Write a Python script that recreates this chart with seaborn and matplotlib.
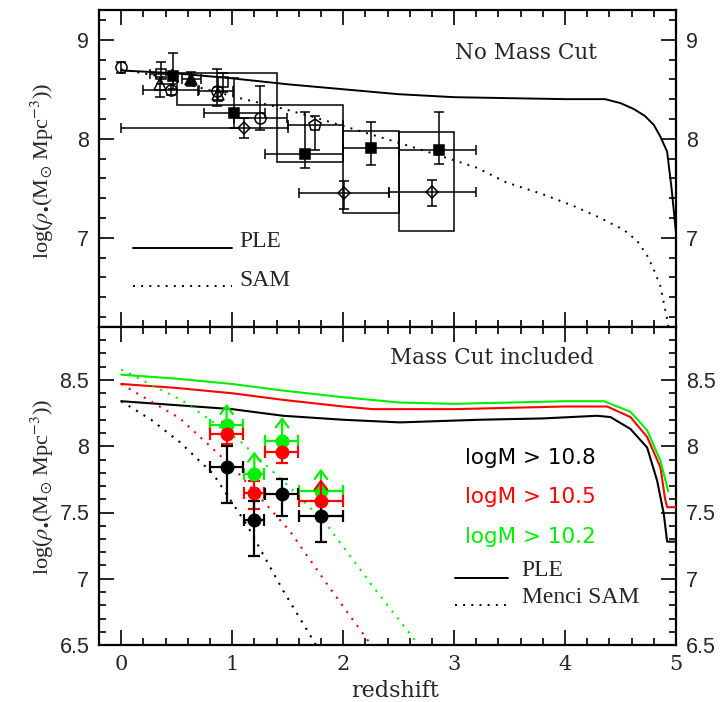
import numpy as np
import matplotlib
matplotlib.use("Agg")
import matplotlib.pyplot as plt
import seaborn as sns
from matplotlib.patches import Rectangle
from matplotlib.ticker import MultipleLocator

nan = np.nan

# ---------------- top panel: models ----------------
ple_top_z = [0.0, 0.5, 1.0, 1.5, 2.0, 2.5, 3.0, 3.5, 4.0, 4.36, 4.5, 4.62, 4.72, 4.8, 4.86, 4.92, 4.96, 5.0]
ple_top_v = [8.69, 8.66, 8.61, 8.55, 8.50, 8.45, 8.42, 8.41, 8.40, 8.40, 8.36, 8.30, 8.23, 8.14, 8.02, 7.87, 7.50, 7.05]
sam_top_z = [0.0, 0.3, 0.56, 0.8, 1.07, 1.37, 1.7, 2.0, 2.5, 2.87, 3.2, 3.47, 3.8, 4.08, 4.3, 4.53, 4.65, 4.74, 4.8, 4.86, 4.92, 4.94]
sam_top_v = [8.70, 8.64, 8.56, 8.49, 8.41, 8.33, 8.23, 8.13, 7.96, 7.83, 7.71, 7.56, 7.44, 7.32, 7.21, 7.08, 6.97, 6.82, 6.68, 6.51, 6.18, 6.05]

# ---------------- top panel: observations ----------------
oc_z = [0.00, 0.45, 0.86, 1.25]
oc_v = [8.72, 8.49, 8.48, 8.21]
oc_zlo = [nan, 0.20, 0.69, 1.02]
oc_zhi = [nan, 0.70, 1.01, 1.49]
oc_vlo = [8.66, 8.44, 8.33, 8.09]
oc_vhi = [8.78, 8.55, 8.70, 8.53]

fs_z = [0.47, 1.02, 1.655, 2.25, 2.86]
fs_v = [8.63, 8.26, 7.85, 7.91, 7.89]
fs_zlo = [nan, 0.75, 1.30, 2.00, 2.50]
fs_zhi = [nan, 1.30, 2.00, 2.50, 3.20]
fs_vlo = [8.50, 8.11, 7.71, 7.74, 7.75]
fs_vhi = [8.87, 8.61, 8.27, 8.17, 8.27]

os_z = [0.36, 0.92]
os_v = [8.65, 8.57]
os_zlo = [0.26, nan]
os_zhi = [0.46, nan]
os_vlo = [8.55, 8.47]
os_vhi = [8.78, 8.66]

ot_z = [0.35, 0.87]
ot_v = [8.55, 8.45]
ot_vlo = [8.42, 8.38]
ot_vhi = [8.62, 8.52]

ft_z = [0.63]
ft_v = [8.60]
ft_zlo = [0.55]
ft_zhi = [0.72]
ft_vlo = [8.53]
ft_vhi = [8.67]

op_z = [1.745]
op_v = [8.14]
op_zlo = [1.50]
op_zhi = [2.00]
op_vlo = [7.89]
op_vhi = [8.23]

od_z = [1.11, 2.01, 2.80]
od_v = [8.11, 7.45, 7.46]
od_zlo = [0.00, 1.60, 2.41]
od_zhi = [1.50, 2.41, 3.20]
od_vlo = [8.01, 7.29, 7.32]
od_vhi = [8.21, 7.57, 7.58]

box_zlo = [0.5, 1.4, 2.0, 2.5]
box_zhi = [1.4, 2.0, 2.5, 3.0]
box_vlo = [8.345, 7.77, 7.25, 7.07]
box_vhi = [8.66, 8.345, 8.08, 8.07]

# ---------------- bottom panel: models ----------------
ple108_z = [0.0, 0.5, 1.0, 1.46, 2.0, 2.51, 3.23, 3.8, 4.29, 4.41, 4.59, 4.74, 4.83, 4.89, 4.92, 5.0]
ple108_v = [8.34, 8.31, 8.28, 8.23, 8.20, 8.18, 8.20, 8.21, 8.23, 8.22, 8.13, 7.99, 7.74, 7.49, 7.28, 7.28]
ple105_z = [0.0, 0.5, 1.0, 1.46, 2.0, 2.27, 3.0, 3.5, 4.0, 4.38, 4.59, 4.74, 4.86, 4.90, 4.92, 5.0]
ple105_v = [8.47, 8.44, 8.40, 8.35, 8.30, 8.28, 8.28, 8.29, 8.30, 8.30, 8.22, 8.07, 7.84, 7.61, 7.54, 7.54]
ple102_z = [0.0, 0.5, 1.0, 1.46, 2.0, 2.51, 3.0, 3.5, 4.0, 4.35, 4.59, 4.74, 4.86, 4.93]
ple102_v = [8.54, 8.51, 8.47, 8.42, 8.37, 8.33, 8.32, 8.33, 8.34, 8.34, 8.26, 8.12, 7.89, 7.66]

sam108_z = [0.0, 0.27, 0.53, 0.83, 1.13, 1.46, 1.77]
sam108_v = [8.34, 8.20, 8.03, 7.79, 7.41, 6.91, 6.48]
sam105_z = [0.0, 0.53, 1.02, 1.52, 1.88, 2.27]
sam105_v = [8.47, 8.21, 7.83, 7.36, 6.93, 6.48]
sam102_z = [0.0, 0.56, 1.07, 1.52, 1.85, 2.27, 2.69]
sam102_v = [8.58, 8.34, 8.04, 7.69, 7.41, 6.94, 6.49]

# ---------------- bottom panel: observations ----------------
obs_z = [0.95, 1.20, 1.45, 1.80]
obs_zlo = [0.80, 1.11, 1.30, 1.60]
obs_zhi = [1.10, 1.29, 1.59, 2.00]
m108_v = [7.84, 7.44, 7.64, 7.47]
m108_lo = [7.57, 7.17, 7.47, 7.28]
m108_hi = [8.00, 7.59, 7.75, 7.59]
m105_v = [8.09, 7.65, 7.96, 7.59]
m105_lo = [8.02, 7.53, 7.87, nan]
m105_hi = [8.18, 7.74, 8.04, nan]
m105_lim = [nan, nan, nan, 7.75]
m102_v = [8.16, 7.79, 8.04, 7.66]
m102_lim = [8.32, 7.96, 8.22, 7.83]

cut_labels = ["logM > 10.8", "logM > 10.5", "logM > 10.2"]
cut_colors = ["black", "#ff0000", "#00f000"]

# ---------------- style ----------------
sns.set_theme(style="ticks")
plt.rcParams["font.family"] = ["DejaVu Sans"]
plt.rcParams["mathtext.fontset"] = "stix"

SERIF = "DejaVu Serif"
TIMES = "Liberation Serif"
SANS = "Liberation Sans"
DOT = (0, (1, 3.2))

fig = plt.figure(figsize=(7.25, 7.02), dpi=100)
L, W = 99 / 725, 577 / 725
ax1 = fig.add_axes([L, 1 - 327 / 702, W, 317 / 702])
ax2 = fig.add_axes([L, 1 - 645 / 702, W, 318 / 702])


def style_axis(ax, ylim, xlabels):
    ax.set_xlim(-0.2, 5.0)
    ax.set_ylim(*ylim)
    ax.xaxis.set_major_locator(MultipleLocator(1))
    ax.xaxis.set_minor_locator(MultipleLocator(0.2))
    ax.tick_params(which="both", direction="in", top=True, right=True,
                   labelright=True, color="black", width=1.2)
    ax.tick_params(which="major", length=11)
    ax.tick_params(which="minor", length=5)
    ax.tick_params(axis="y", which="major", pad=7, labelsize=15.5)
    ax.tick_params(axis="x", which="major", pad=7, labelsize=15,
                   labelbottom=xlabels)
    for lab in ax.get_xticklabels():
        lab.set_fontfamily(SERIF)
    for sp in ax.spines.values():
        sp.set_linewidth(1.6)
        sp.set_color("black")
    ax.set_xlabel("")
    ax.set_ylabel("")


def asym(center, lo, hi):
    c = np.asarray(center, float)
    return np.vstack([c - np.asarray(lo, float), np.asarray(hi, float) - c])


# ---------------- top panel ----------------
for zl, zh, vl, vh in zip(box_zlo, box_zhi, box_vlo, box_vhi):
    ax1.add_patch(Rectangle((zl, vl), zh - zl, vh - vl, fill=False,
                            edgecolor="black", lw=1.1, zorder=2))

sns.lineplot(x=ple_top_z, y=ple_top_v, ax=ax1, color="black", lw=1.4,
             sort=False, estimator=None, zorder=3)
sns.lineplot(x=sam_top_z, y=sam_top_v, ax=ax1, color="black", lw=1.4,
             linestyle=DOT, sort=False, estimator=None, zorder=3)

ekw = dict(ls="none", ecolor="black", elinewidth=1.1, capsize=3.5,
           capthick=1.1, zorder=4, mec="black", mew=1.1)
ax1.errorbar(oc_z, oc_v, xerr=asym(oc_z, oc_zlo, oc_zhi),
             yerr=asym(oc_v, oc_vlo, oc_vhi), marker="o", ms=8,
             mfc="none", **ekw)
ax1.errorbar(os_z, os_v, xerr=asym(os_z, os_zlo, os_zhi),
             yerr=asym(os_v, os_vlo, os_vhi), marker="s", ms=7,
             mfc="none", **ekw)
ax1.errorbar(ot_z, ot_v, yerr=asym(ot_v, ot_vlo, ot_vhi), marker="^",
             ms=8, mfc="none", **ekw)
ax1.errorbar(ft_z, ft_v, xerr=asym(ft_z, ft_zlo, ft_zhi),
             yerr=asym(ft_v, ft_vlo, ft_vhi), marker="^", ms=8,
             mfc="black", **ekw)
ax1.errorbar(op_z, op_v, xerr=asym(op_z, op_zlo, op_zhi),
             yerr=asym(op_v, op_vlo, op_vhi), marker="p", ms=9,
             mfc="none", **ekw)
ax1.errorbar(od_z, od_v, xerr=asym(od_z, od_zlo, od_zhi),
             yerr=asym(od_v, od_vlo, od_vhi), marker="D", ms=6,
             mfc="none", **ekw)
ax1.errorbar(fs_z, fs_v, xerr=asym(fs_z, fs_zlo, fs_zhi),
             yerr=asym(fs_v, fs_vlo, fs_vhi), marker="s", ms=7.5,
             mfc="black", **ekw)

ax1.text(0.617, 0.864, "No Mass Cut", transform=ax1.transAxes,
         family=SERIF, fontsize=15.5, ha="left", va="center")
ax1.plot([0.059, 0.231], [0.250, 0.250], transform=ax1.transAxes,
         color="black", lw=1.4)
ax1.plot([0.059, 0.231], [0.129, 0.129], transform=ax1.transAxes,
         color="black", lw=1.4, linestyle=DOT)
ax1.text(0.2426, 0.269, "PLE", transform=ax1.transAxes, family=TIMES,
         fontsize=17, ha="left", va="center")
ax1.text(0.2426, 0.148, "SAM", transform=ax1.transAxes, family=TIMES,
         fontsize=17, ha="left", va="center")

style_axis(ax1, (6.1, 9.3), False)
ax1.yaxis.set_minor_locator(MultipleLocator(0.2))
ax1.set_yticks([7, 8, 9])
ax1.set_yticklabels(["7", "8", "9"])
for lab in ax1.get_yticklabels():
    lab.set_fontfamily(SANS)

# ---------------- bottom panel ----------------
for zz, vv, col in [(ple108_z, ple108_v, cut_colors[0]),
                    (ple105_z, ple105_v, cut_colors[1]),
                    (ple102_z, ple102_v, cut_colors[2])]:
    sns.lineplot(x=zz, y=vv, ax=ax2, color=col, lw=1.5, sort=False,
                 estimator=None, zorder=3)
for zz, vv, col in [(sam108_z, sam108_v, cut_colors[0]),
                    (sam105_z, sam105_v, cut_colors[1]),
                    (sam102_z, sam102_v, cut_colors[2])]:
    sns.lineplot(x=zz, y=vv, ax=ax2, color=col, lw=1.5, linestyle=DOT,
                 sort=False, estimator=None, zorder=3)

bkw = dict(ls="none", marker="o", ms=9, elinewidth=1.6, capsize=4,
           capthick=1.6, zorder=5)
xe = asym(obs_z, obs_zlo, obs_zhi)
arrow = dict(arrowstyle="->,head_length=0.6,head_width=0.45", lw=1.6,
             shrinkA=0, shrinkB=0, mutation_scale=10)

ax2.errorbar(obs_z, m102_v, xerr=xe, color=cut_colors[2], mec=cut_colors[2],
             **bkw)
for z, v, t in zip(obs_z, m102_v, m102_lim):
    ax2.annotate("", xy=(z, t), xytext=(z, v),
                 arrowprops=dict(color=cut_colors[2], **arrow), zorder=5)
ax2.errorbar(obs_z, m105_v, xerr=xe, yerr=asym(m105_v, m105_lo, m105_hi),
             color=cut_colors[1], mec=cut_colors[1], **bkw)
for z, v, t in zip(obs_z, m105_v, m105_lim):
    if not np.isnan(t):
        ax2.annotate("", xy=(z, t), xytext=(z, v),
                     arrowprops=dict(color=cut_colors[1], **arrow), zorder=6)
ax2.errorbar(obs_z, m108_v, xerr=xe, yerr=asym(m108_v, m108_lo, m108_hi),
             color=cut_colors[0], mec=cut_colors[0], **bkw)

ax2.text(0.504, 0.9025, "Mass Cut included", transform=ax2.transAxes,
         family=SERIF, fontsize=15.5, ha="left", va="center")
for lab, col, yy in zip(cut_labels, cut_colors, [0.588, 0.466, 0.341]):
    ax2.text(0.634, yy, lab, transform=ax2.transAxes, family="DejaVu Sans",
             fontsize=15.5, color=col, ha="left", va="center")
ax2.plot([0.617, 0.709], [0.211, 0.211], transform=ax2.transAxes,
         color="black", lw=1.4)
ax2.plot([0.617, 0.709], [0.126, 0.126], transform=ax2.transAxes,
         color="black", lw=1.4, linestyle=DOT)
ax2.text(0.7326, 0.233, "PLE", transform=ax2.transAxes, family=TIMES,
         fontsize=17, ha="left", va="center")
ax2.text(0.7326, 0.149, "Menci SAM", transform=ax2.transAxes, family=TIMES,
         fontsize=17, ha="left", va="center")

style_axis(ax2, (6.5, 8.9), True)
ax2.yaxis.set_minor_locator(MultipleLocator(0.1))
ax2.set_yticks([6.5, 7.0, 7.5, 8.0, 8.5])
ax2.set_yticklabels(["6.5", "7", "7.5", "8", "8.5"])
for lab in ax2.get_yticklabels():
    lab.set_fontfamily(SANS)
for lab in ax2.get_xticklabels():
    lab.set_fontfamily(SERIF)

ylab = r"log($\rho_{\bullet}$(M$_{\odot}$ Mpc$^{-3}$))"
fig.text(42 / 725, 1 - 171 / 702, ylab, rotation=90, ha="center",
         va="center", family=TIMES, fontsize=16)
fig.text(42 / 725, 1 - 487 / 702, ylab, rotation=90, ha="center",
         va="center", family=TIMES, fontsize=16)
fig.text(395 / 725, 1 - 691 / 702, "redshift", ha="center", va="center",
         family=SERIF, fontsize=16)

fig.savefig("out.png", dpi=100)
